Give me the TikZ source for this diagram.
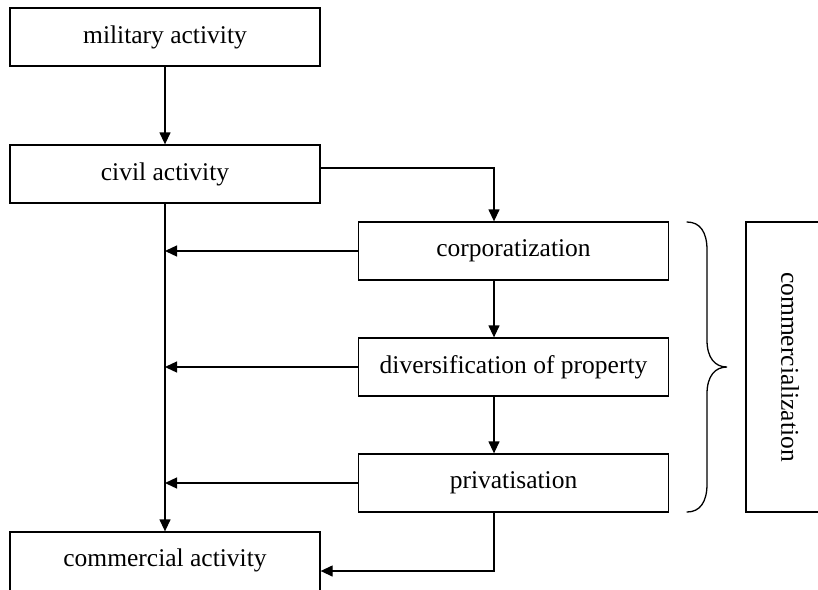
\documentclass[tikz,border=0pt]{standalone}
\usepackage{fontspec}
\setmainfont{Liberation Serif}
\usepackage{tikz}
\usetikzlibrary{arrows.meta}
\tikzstyle{StageBox}=[draw,line width=1.3pt,minimum width=310pt,minimum height=58pt,
inner sep=2pt,font=\fontsize{25.5}{30}\selectfont]
\tikzstyle{FlowArrow}=[line width=1.3pt,-{Triangle[length=12pt,width=11pt]}]
\tikzstyle{BraceLine}=[line width=1.3pt,line cap=round]

\begin{document}
\begin{tikzpicture}[x=1pt,y=-1pt]
        \useasboundingbox(0,0)rectangle(818,589);
        \node[StageBox](military)at(165,37){military activity};
        \node[StageBox](civil)at(165,174){civil activity};
        \node[StageBox](corp)at(513.5,251){corporatization};
        \node[StageBox](divers)at(513.5,367){diversification of property};
        \node[StageBox](priv)at(513.5,483){privatisation};
        \node[StageBox,minimum height=70pt,text depth=18pt](commercial)at(165,567){commercial activity};
        \node[StageBox,rotate=-90,minimum width=290pt,minimum height=88pt](comm)at(790,367){commercialization};
        \draw[FlowArrow](military)--(civil);
        \draw[FlowArrow]([yshift=6pt]civil.east)-|([xshift=-19.5pt]corp.north);
        \draw[FlowArrow]([xshift=-19.5pt]corp.south)--([xshift=-19.5pt]divers.north);
        \draw[FlowArrow]([xshift=-19.5pt]divers.south)--([xshift=-19.5pt]priv.north);
        \draw[FlowArrow](corp.west)--(corp.west-|civil.south);
        \draw[FlowArrow](divers.west)--(divers.west-|civil.south);
        \draw[FlowArrow](priv.west)--(priv.west-|civil.south);
        \draw[FlowArrow](civil)--(commercial);
        \draw[FlowArrow]([xshift=-19.5pt]priv.south)|-(commercial.east|-0,571);
        % brace
        \draw[BraceLine](687,222)..controls(700,222)and(707,232)..(707,250)--(707,340)
            ..controls(707,358)and(715,367)..(727,367)
            ..controls(715,367)and(707,376)..(707,394)--(707,484)
            ..controls(707,502)and(700,512)..(687,512);
    \end{tikzpicture}
\end{document}
